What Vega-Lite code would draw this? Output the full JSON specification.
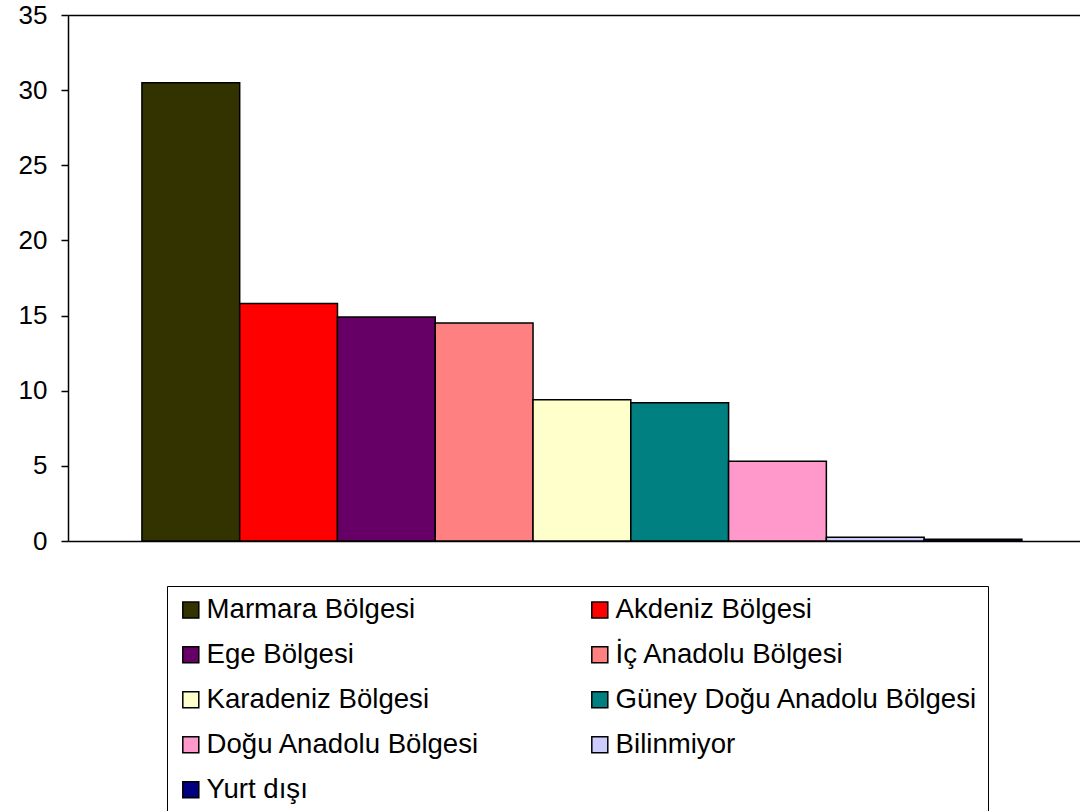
{
  "$schema": "https://vega.github.io/schema/vega-lite/v6.json",
  "width": 1012,
  "height": 526,
  "autosize": {"type": "none"},
  "padding": {"left": 68, "top": 15, "right": 0, "bottom": 270},
  "background": "white",
  "config": {"view": {"stroke": null}, "font": "Liberation Sans"},
  "data": {
    "values": [
      {"region": "Marmara Bölgesi", "value": 30.5},
      {"region": "Akdeniz Bölgesi", "value": 15.8},
      {"region": "Ege Bölgesi", "value": 14.9},
      {"region": "İç Anadolu Bölgesi", "value": 14.5},
      {"region": "Karadeniz Bölgesi", "value": 9.4},
      {"region": "Güney Doğu Anadolu Bölgesi", "value": 9.2},
      {"region": "Doğu Anadolu Bölgesi", "value": 5.3},
      {"region": "Bilinmiyor", "value": 0.25},
      {"region": "Yurt dışı", "value": 0.12}
    ]
  },
  "mark": {"type": "bar", "stroke": "black", "strokeWidth": 1.5},
  "encoding": {
    "x": {
      "field": "region",
      "type": "nominal",
      "sort": null,
      "scale": {"paddingInner": 0, "paddingOuter": 0.675, "align": 0.56},
      "axis": {"title": null, "labels": false, "ticks": false, "domainColor": "black", "domainWidth": 1.5}
    },
    "y": {
      "field": "value",
      "type": "quantitative",
      "scale": {"domain": [0, 35], "nice": false},
      "axis": {
        "title": null,
        "values": [0, 5, 10, 15, 20, 25, 30, 35],
        "grid": true,
        "gridColor": {"condition": {"test": "datum.value === 35", "value": "black"}, "value": "transparent"},
        "gridWidth": 1.5,
        "domainColor": "black",
        "domainWidth": 1.5,
        "tickColor": "black",
        "tickWidth": 1.5,
        "tickSize": 7,
        "labelFontSize": 26,
        "labelColor": "black",
        "labelPadding": 14,
        "labelFont": "Liberation Sans"
      }
    },
    "color": {
      "field": "region",
      "type": "nominal",
      "sort": null,
      "scale": {
        "domain": ["Marmara Bölgesi", "Akdeniz Bölgesi", "Ege Bölgesi", "İç Anadolu Bölgesi", "Karadeniz Bölgesi", "Güney Doğu Anadolu Bölgesi", "Doğu Anadolu Bölgesi", "Bilinmiyor", "Yurt dışı"],
        "range": ["#333300", "#FF0000", "#660066", "#FF8080", "#FFFFCC", "#008080", "#FF99CC", "#CCCCFF", "#000080"]
      },
      "legend": {
        "title": null,
        "orient": "none",
        "direction": "horizontal",
        "legendX": 99,
        "legendY": 571,
        "columns": 2,
        "columnPadding": 106,
        "rowPadding": 16,
        "symbolType": "square",
        "symbolSize": 256,
        "symbolStrokeColor": "black",
        "symbolStrokeWidth": 1.5,
        "symbolOpacity": 1,
        "labelFontSize": 27.6,
        "labelFont": "Liberation Sans",
        "labelColor": "black",
        "labelOffset": 2,
        "labelLimit": 600,
        "strokeColor": "black",
        "padding": 10
      }
    }
  }
}
